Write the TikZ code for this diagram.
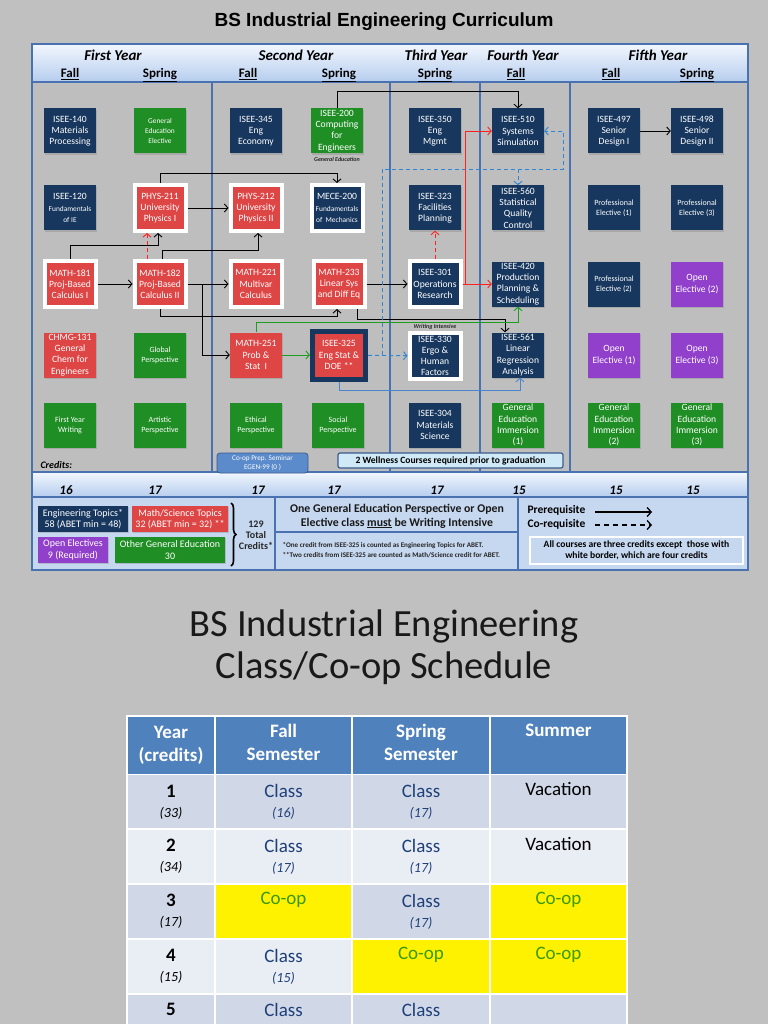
\documentclass[tikz,border=0pt]{standalone}
\usepackage{fontspec}
\setmainfont{Carlito}
\newfontfamily\titlefont{Liberation Sans}
\usepackage{tikz}
\usetikzlibrary{positioning, arrows.meta, calc, shadows, decorations.pathreplacing}
\definecolor{pagegray}{HTML}{C0C0C0}
\definecolor{bodygray}{HTML}{BEBEBE}
\definecolor{frameblue}{HTML}{4A72B0}
\definecolor{bandtop}{HTML}{F2F7FE}
\definecolor{bandbot}{HTML}{B6CDEE}
\definecolor{legendblue}{HTML}{C6D8F0}
\definecolor{navybox}{HTML}{17375E}
\definecolor{redbox}{HTML}{DE4545}
\definecolor{greenbox}{HTML}{1F8E24}
\definecolor{purplebox}{HTML}{9140CB}
\definecolor{coopblue}{HTML}{5B8BCB}
\definecolor{wellcyan}{HTML}{CFEAF6}
\definecolor{dashblue}{HTML}{2E86D6}
\definecolor{solidblue}{HTML}{4A86CF}
\definecolor{prered}{HTML}{FF2020}
\definecolor{pregreen}{HTML}{1E9E1E}
\definecolor{headblue}{HTML}{4F81BD}
\definecolor{rowdark}{HTML}{D0D8E8}
\definecolor{rowlight}{HTML}{E9EDF4}
\definecolor{classblue}{HTML}{1F3F78}
\definecolor{coopgreen}{HTML}{3A9A00}
\newcommand\tinyfs{\fontsize{7.4}{8.6}\selectfont}
\newcommand\cellnum[1]{{\itshape\fontsize{14}{20}\selectfont #1}}

\begin{document}
\begin{tikzpicture}[x=1pt, y=-1pt, font=\fontsize{9.6}{11.2}\selectfont,
  course/.style={rectangle, minimum width=52pt, minimum height=45pt, inner sep=0.5pt, align=center, text=white,
    drop shadow={shadow xshift=1.2pt, shadow yshift=-1.2pt, opacity=0.35}},
  navycourse/.style={course, fill=navybox},
  redcourse/.style={course, fill=redbox},
  greencourse/.style={course, fill=greenbox},
  purplecourse/.style={course, fill=purplebox},
  fourcredit/.style={draw=white, line width=4pt, minimum width=51pt, minimum height=46pt},
  smallcourse/.style={font=\fontsize{8}{10}\selectfont},
  notelabel/.style={font=\fontsize{6}{7}\selectfont\bfseries\itshape, text=black!85},
  yearhead/.style={anchor=base, font=\fontsize{15}{17}\selectfont\bfseries\itshape},
  semhead/.style={anchor=base, font=\fontsize{13}{15}\selectfont\bfseries},
  credit/.style={font=\fontsize{13}{15}\selectfont\bfseries\itshape},
  prereq/.style={draw=black, line width=0.9pt, -{Straight Barb[length=3.5pt, width=8pt]}},
  redprereq/.style={prereq, draw=prered},
  redcoreq/.style={prereq, draw=prered, dash pattern=on 4pt off 3pt},
  greenprereq/.style={prereq, draw=pregreen},
  bluecoreq/.style={prereq, draw=dashblue, dash pattern=on 4pt off 3pt},
  blueprereq/.style={prereq, draw=solidblue},
  legbox/.style={rectangle, inner sep=1pt, align=center, text=white, minimum height=26pt,
    font=\fontsize{10}{11.5}\selectfont, drop shadow={shadow xshift=1pt, shadow yshift=-1pt, opacity=0.35}},
  legarrow/.style={draw=black, line width=1.3pt, -{Straight Barb[length=4pt, width=9pt]}},
  tcell/.style={rectangle, draw=white, line width=1.5pt, inner sep=0pt, align=center, minimum height=55pt,
    font=\fontsize{19}{20}\selectfont},
  thead/.style={tcell, fill=headblue, text=white, minimum height=59pt, font=\fontsize{19}{23}\selectfont\bfseries},
  colyear/.style={minimum width=88pt}, colfall/.style={minimum width=137pt},
  colspring/.style={minimum width=138pt}, colsummer/.style={minimum width=137pt},
  classcell/.style={text=classblue}, coopcell/.style={fill=yellow, text=coopgreen}]

  \useasboundingbox (0,0) rectangle (768,1024);
  \fill[pagegray] (0,0) rectangle (768,1024);

  % curriculum chart frame
  \node[font=\titlefont\bfseries\fontsize{19}{22}\selectfont] (ctitle) at (384,22) {BS Industrial Engineering Curriculum};
  \fill[top color=bandtop, bottom color=bandbot] (32,44) rectangle (748,82);
  \fill[bodygray] (32,82) rectangle (748,472);
  \fill[top color=bandtop, bottom color=bandbot] (32,472) rectangle (748,497);
  \fill[legendblue] (32,497) rectangle (748,570);
  \draw[frameblue, line width=1.2pt] (32,82) -- (748,82) (32,472) -- (748,472) (32,497) -- (748,497);
  \foreach \xc in {212,390,480,570}
    \draw[frameblue, line width=1.4pt] (\xc,82) -- (\xc,472);
  \draw[frameblue, line width=1.4pt] (275,497) -- (275,570) (518,497) -- (518,570) (275,532) -- (518,532);
  \draw[frameblue, line width=1.5pt] (32,44) rectangle (748,570);

  % year and semester heads
  \node[yearhead] (y1) at (113,61) {First Year};
  \node[yearhead] (y2) at (296,61) {Second Year};
  \node[yearhead] (y3) at (436,61) {Third Year};
  \node[yearhead] (y4) at (523,61) {Fourth Year};
  \node[yearhead] (y5) at (658,61) {Fifth Year};
  \node[semhead] (s1) at (70,78) {\underline{Fall}};
  \node[semhead] (s2) at (160,78) {\underline{Spring}};
  \node[semhead] (s3) at (248,78) {\underline{Fall}};
  \node[semhead] (s4) at (339,78) {\underline{Spring}};
  \node[semhead] (s5) at (435,78) {\underline{Spring}};
  \node[semhead] (s6) at (516,78) {\underline{Fall}};
  \node[semhead] (s7) at (611,78) {\underline{Fall}};
  \node[semhead] (s8) at (697,78) {\underline{Spring}};

  % courses, row by row
  \node[navycourse] (i140) at (70,131) {ISEE-140\\Materials\\Processing};
  \node[greencourse, font=\fontsize{7.4}{9.6}\selectfont] (gee) at (160,131) {General\\Education\\Elective};
  \node[navycourse] (i345) at (256,131) {ISEE-345\\Eng\\Economy};
  \node[greencourse] (i200) at (337,131) {ISEE-200\\Computing\\for\\Engineers};
  \node[notelabel] (gelab) at (337,159) {General Education};
  \node[navycourse] (i350) at (435,131) {ISEE-350\\Eng\\Mgmt};
  \node[navycourse] (i510) at (518,131) {ISEE-510\\Systems\\Simulation};
  \node[navycourse] (i497) at (614,131) {ISEE-497\\Senior\\Design I};
  \node[navycourse] (i498) at (697,131) {ISEE-498\\Senior\\Design II};

  \node[navycourse] (i120) at (70,208) {ISEE-120\\\tinyfs Fundamentals\\\tinyfs of IE};
  \node[redcourse, fourcredit] (p211) at (160,208) {PHYS-211\\University\\Physics I};
  \node[redcourse, fourcredit] (p212) at (256,208) {PHYS-212\\University\\Physics II};
  \node[navycourse, fourcredit] (me200) at (337,208) {MECE-200\\\tinyfs Fundamentals\\\tinyfs of~ Mechanics};
  \node[navycourse] (i323) at (435,208) {ISEE-323\\Facilities\\Planning};
  \node[navycourse] (i560) at (518,208) {ISEE-560\\Statistical\\Quality\\Control};
  \node[navycourse, smallcourse] (pe1) at (614,208) {Professional\\Elective (1)};
  \node[navycourse, smallcourse] (pe3) at (697,208) {Professional\\Elective (3)};

  \node[redcourse, fourcredit] (m181) at (70,284) {MATH-181\\Proj-Based\\Calculus I};
  \node[redcourse, fourcredit] (m182) at (160,284) {MATH-182\\Proj-Based\\Calculus II};
  \node[redcourse, fourcredit] (m221) at (256,284) {MATH-221\\Multivar\\Calculus};
  \node[redcourse, fourcredit] (m233) at (339,284) {MATH-233\\Linear Sys\\and Diff Eq};
  \node[navycourse, fourcredit] (i301) at (435,284) {ISEE-301\\Operations\\Research};
  \node[navycourse] (i420) at (518,284) {ISEE-420\\Production\\Planning \&\\Scheduling};
  \node[navycourse, smallcourse] (pe2) at (614,284) {Professional\\Elective (2)};
  \node[purplecourse] (oe2) at (697,284) {Open\\Elective (2)};

  \node[redcourse] (c131) at (70,355) {CHMG-131\\General\\Chem for\\Engineers};
  \node[greencourse, smallcourse] (glob) at (160,355) {Global\\Perspective};
  \node[redcourse] (m251) at (256,355) {MATH-251\\Prob \&\\Stat~~I};
  \node[redcourse, draw=navybox, line width=5pt, minimum width=53pt, minimum height=48pt] (i325) at (339,355) {ISEE-325\\Eng Stat \&\\DOE **};
  \node[notelabel] (wilab) at (435,327) {Writing Intensive};
  \node[navycourse, fourcredit] (i330) at (435,356) {ISEE-330\\Ergo \&\\Human\\Factors};
  \node[navycourse] (i561) at (518,355) {ISEE-561\\Linear\\Regression\\Analysis};
  \node[purplecourse] (oe1) at (614,355) {Open\\Elective (1)};
  \node[purplecourse] (oe3) at (697,355) {Open\\Elective (3)};

  \node[greencourse, smallcourse] (fyw) at (70,425) {First Year\\Writing};
  \node[greencourse, smallcourse] (art) at (160,425) {Artistic\\Perspective};
  \node[greencourse, smallcourse] (eth) at (256,425) {Ethical\\Perspective};
  \node[greencourse, smallcourse] (soc) at (338,425) {Social\\Perspective};
  \node[navycourse] (i304) at (435,425) {ISEE-304\\Materials\\Science};
  \node[greencourse] (gei1) at (518,425) {General\\Education\\Immersion\\(1)};
  \node[greencourse] (gei2) at (614,425) {General\\Education\\Immersion\\(2)};
  \node[greencourse] (gei3) at (697,425) {General\\Education\\Immersion\\(3)};

  \node[font=\fontsize{10}{11}\selectfont\bfseries\itshape, anchor=west] (credlab) at (37,465) {Credits:};
  \node[fill=coopblue, draw=frameblue!80!black, line width=0.8pt, rounded corners=3pt, minimum width=91pt, minimum height=20pt,
        inner sep=1pt, align=center, text=white, font=\fontsize{7.2}{8.4}\selectfont] (coop) at (262.5,463) {Co-op Prep. Seminar\\EGEN-99 (0 )};
  \node[fill=wellcyan, draw=frameblue!80!black, line width=1.2pt, rounded corners=2pt, minimum width=225pt, minimum height=15pt,
        inner sep=1pt, font=\fontsize{9.6}{10.5}\selectfont\bfseries] (well) at (450.5,460.5) {2 Wellness Courses required prior to graduation};

  % prerequisite connectors
  \draw[prereq] (i200.north) -- ++(0,-17) -| (i510.north);
  \draw[prereq] (p211.north) -- ++(0,-10) -| (me200.north);
  \draw[prereq] (p211) -- (p212);
  \draw[prereq] (m181.north) -- ++(0,-14) -| ([xshift=-2pt]p211.south);
  \draw[prereq] ([xshift=2pt]m182.north) -- ++(0,-9) -| ([xshift=2pt]p212.south);
  \draw[redcoreq] ([xshift=-13pt]m182.north) -- ([xshift=-13pt]p211.south);
  \draw[prereq] (m181) -- (m182);
  \draw[prereq] (m182) -- (m221);
  \draw[prereq] (m182.east) -- ++(15,0) |- (m251.west);
  \draw[prereq] (m182.south) -- ++(0,7) -| ([xshift=-2pt]m233.south);
  \draw[prereq] (m233) -- (i301);
  \draw[prereq] ([xshift=18pt]m233.south) -- ++(0,10) -| ([xshift=-13pt]i561.north);
  \draw[greenprereq] (m251.north) -- ++(0,-10) -| (i420.south);
  \draw[greenprereq] (m251) -- (i325);
  \draw[bluecoreq] (i325) -- (i330);
  \coordinate (bluesplit) at (382,169);
  \draw[bluecoreq] (bluesplit |- i325.east) -- (bluesplit) -| ([xshift=19pt]i510.east) -- (i510.east);
  \draw[bluecoreq] (bluesplit -| i560.north) -- (i560.north);
  \draw[blueprereq] (i325.south) -- ++(0,9) -| ([xshift=2pt]i561.south);
  \draw[redprereq] (i301) -- (i420);
  \draw[redprereq] (i301.east) -- ++(3,0) |- (i510.west);
  \draw[redcoreq] (i301.north) -- (i323.south);
  \draw[prereq] (i497) -- (i498);

  % credits per semester
  \node[credit] (cr1) at (66,490) {16};
  \node[credit] (cr2) at (155,490) {17};
  \node[credit] (cr3) at (258,490) {17};
  \node[credit] (cr4) at (334,490) {17};
  \node[credit] (cr5) at (437,490) {17};
  \node[credit] (cr6) at (519,490) {15};
  \node[credit] (cr7) at (616,490) {15};
  \node[credit] (cr8) at (693,490) {15};

  % legend
  \node[legbox, fill=navybox, minimum width=90pt] (lengr) at (83,519) {Engineering Topics*\\58 (ABET min = 48)};
  \node[legbox, fill=redbox, minimum width=96pt] (lmath) at (180,519) {Math/Science Topics\\32 (ABET min = 32) **};
  \node[legbox, fill=purplebox, minimum width=70pt] (lopen) at (73,550) {Open Electives\\9 (Required)};
  \node[legbox, fill=greenbox, minimum width=110pt] (lgen) at (170,550) {Other General Education\\30};
  \draw[line width=1.6pt, decorate, decoration={brace, amplitude=5pt}] (231,503) -- (231,566);
  \node[align=center, font=\fontsize{10}{11}\selectfont\bfseries, text=black!85] (total) at (256,535) {129\\Total\\Credits*};
  \node[align=center, font=\fontsize{11.8}{14}\selectfont\bfseries, text=black!90] (wnote) at (397,516)
    {One General Education Perspective or Open\\Elective class \underline{must} be Writing Intensive};
  \node[align=left, anchor=west, font=\fontsize{7.1}{9.5}\selectfont\bfseries, text=black!85] (abetnote) at (279,550)
    {*One credit from ISEE-325 is counted as Engineering Topics for ABET.\\**Two credits from ISEE-325 are counted as Math/Science credit for ABET.};
  \node[anchor=west, font=\fontsize{11.5}{13}\selectfont\bfseries] (lpre) at (524,510) {Prerequisite};
  \node[anchor=west, font=\fontsize{11.5}{13}\selectfont\bfseries] (lco) at (524,524) {Co-requisite};
  \coordinate (prestart) at (595,512);
  \coordinate (preend) at (652,512);
  \coordinate (costart) at (595,525);
  \coordinate (coend) at (652,525);
  \draw[legarrow] (prestart) -- (preend);
  \draw[legarrow, dash pattern=on 5pt off 4pt] (costart) -- (coend);
  \node[fill=legendblue, draw=white, line width=2pt, minimum width=213pt, minimum height=27pt, align=center,
        font=\fontsize{9.6}{11.5}\selectfont\bfseries] (credrule) at (636.5,550.5)
    {All courses are three credits except~ those with\\white border, which are four credits};

  % co-op schedule
  \node[align=center, font=\fontsize{38.5}{42}\selectfont, text=black!90] (stitle) at (384,647) {BS Industrial Engineering\\Class/Co-op Schedule};

  \node[thead, colyear] (hyear) at (171,745.5) {Year\\(credits)};
  \node[thead, colfall] (hfall) at (283.5,745.5) {Fall\\Semester\strut};
  \node[thead, colspring] (hspring) at (421,745.5) {Spring\\Semester\strut};
  \node[thead, colsummer] (hsummer) at (558.5,745.5) {Summer\\\strut};
  \draw[white, line width=3pt] (hyear.south west) -- (hsummer.south east);

  \node[tcell, colyear, fill=rowdark] (y1c) at (171,802) {{\bfseries 1}\\\cellnum{(33)}};
  \node[tcell, colfall, fill=rowdark, classcell] (f1c) at (283.5,802) {Class\\\cellnum{(16)}};
  \node[tcell, colspring, fill=rowdark, classcell] (p1c) at (421,802) {Class\\\cellnum{(17)}};
  \node[tcell, colsummer, fill=rowdark] (u1c) at (558.5,802) {Vacation\\\strut};

  \node[tcell, colyear, fill=rowlight] (y2c) at (171,856.5) {{\bfseries 2}\\\cellnum{(34)}};
  \node[tcell, colfall, fill=rowlight, classcell] (f2c) at (283.5,856.5) {Class\\\cellnum{(17)}};
  \node[tcell, colspring, fill=rowlight, classcell] (p2c) at (421,856.5) {Class\\\cellnum{(17)}};
  \node[tcell, colsummer, fill=rowlight] (u2c) at (558.5,856.5) {Vacation\\\strut};

  \node[tcell, colyear, fill=rowdark] (y3c) at (171,911.5) {{\bfseries 3}\\\cellnum{(17)}};
  \node[tcell, colfall, coopcell] (f3c) at (283.5,911.5) {Co-op\\\strut};
  \node[tcell, colspring, fill=rowdark, classcell] (p3c) at (421,911.5) {Class\\\cellnum{(17)}};
  \node[tcell, colsummer, coopcell] (u3c) at (558.5,911.5) {Co-op\\\strut};

  \node[tcell, colyear, fill=rowlight] (y4c) at (171,966.5) {{\bfseries 4}\\\cellnum{(15)}};
  \node[tcell, colfall, fill=rowlight, classcell] (f4c) at (283.5,966.5) {Class\\\cellnum{(15)}};
  \node[tcell, colspring, coopcell] (p4c) at (421,966.5) {Co-op\\\strut};
  \node[tcell, colsummer, coopcell] (u4c) at (558.5,966.5) {Co-op\\\strut};

  \node[tcell, colyear, fill=rowdark, minimum height=31pt] (y5c) at (171,1009.5) {\bfseries 5};
  \node[tcell, colfall, fill=rowdark, classcell, minimum height=31pt] (f5c) at (283.5,1009.5) {Class};
  \node[tcell, colspring, fill=rowdark, classcell, minimum height=31pt] (p5c) at (421,1009.5) {Class};
  \node[tcell, colsummer, fill=rowdark, minimum height=31pt] (u5c) at (558.5,1009.5) {};
\end{tikzpicture}
\end{document}
